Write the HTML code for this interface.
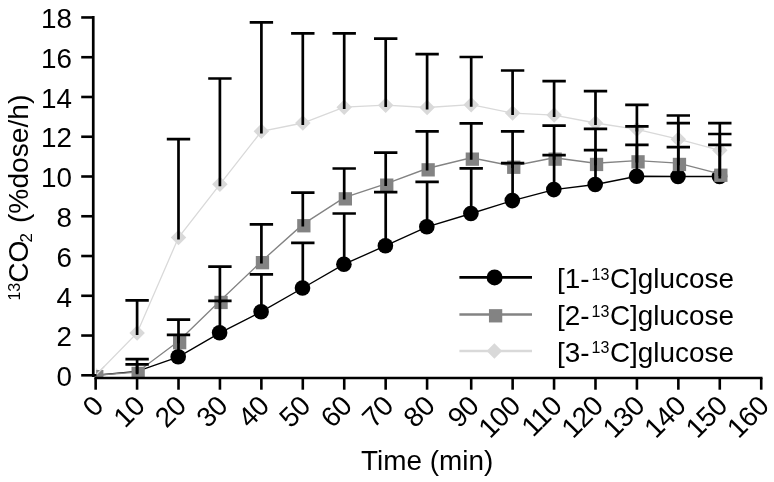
<!DOCTYPE html>
<html><head><meta charset="utf-8"><title>13CO2 chart</title>
<style>
html,body{margin:0;padding:0;background:#fff;}
svg{display:block}
text{font-family:"Liberation Sans",Arial,sans-serif;fill:#000}
.tk{font-size:27.8px}
.tt{font-size:27.9px}
.sup{font-size:16px}
.sub{font-size:17px}
</style></head><body>
<svg width="774" height="482" viewBox="0 0 774 482">
<rect width="774" height="482" fill="#fff"/>
<defs><clipPath id="pa"><rect x="96.2" y="0" width="700" height="376.9"/></clipPath></defs>
<g clip-path="url(#pa)">
<polyline points="95.7,375.3 137.1,333.0 178.5,237.5 219.9,184.3 261.4,131.4 302.8,123.0 344.2,107.1 385.7,105.1 427.1,107.5 471.2,104.7 512.6,113.1 554.1,115.1 595.5,123.0 636.9,129.4 678.3,139.1 719.8,150.3" fill="none" stroke="#d9d9d9" stroke-width="1.3"/>
<path d="M95.7 367.6l7.75 7.75l-7.75 7.75l-7.75 -7.75z" fill="#d9d9d9"/>
<path d="M137.1 325.2l7.75 7.75l-7.75 7.75l-7.75 -7.75z" fill="#d9d9d9"/>
<path d="M178.5 229.8l7.75 7.75l-7.75 7.75l-7.75 -7.75z" fill="#d9d9d9"/>
<path d="M219.9 176.5l7.75 7.75l-7.75 7.75l-7.75 -7.75z" fill="#d9d9d9"/>
<path d="M261.4 123.6l7.75 7.75l-7.75 7.75l-7.75 -7.75z" fill="#d9d9d9"/>
<path d="M302.8 115.3l7.75 7.75l-7.75 7.75l-7.75 -7.75z" fill="#d9d9d9"/>
<path d="M344.2 99.4l7.75 7.75l-7.75 7.75l-7.75 -7.75z" fill="#d9d9d9"/>
<path d="M385.7 97.4l7.75 7.75l-7.75 7.75l-7.75 -7.75z" fill="#d9d9d9"/>
<path d="M427.1 99.8l7.75 7.75l-7.75 7.75l-7.75 -7.75z" fill="#d9d9d9"/>
<path d="M471.2 97.0l7.75 7.75l-7.75 7.75l-7.75 -7.75z" fill="#d9d9d9"/>
<path d="M512.6 105.3l7.75 7.75l-7.75 7.75l-7.75 -7.75z" fill="#d9d9d9"/>
<path d="M554.1 107.3l7.75 7.75l-7.75 7.75l-7.75 -7.75z" fill="#d9d9d9"/>
<path d="M595.5 115.3l7.75 7.75l-7.75 7.75l-7.75 -7.75z" fill="#d9d9d9"/>
<path d="M636.9 121.6l7.75 7.75l-7.75 7.75l-7.75 -7.75z" fill="#d9d9d9"/>
<path d="M678.3 131.4l7.75 7.75l-7.75 7.75l-7.75 -7.75z" fill="#d9d9d9"/>
<path d="M719.8 142.5l7.75 7.75l-7.75 7.75l-7.75 -7.75z" fill="#d9d9d9"/>
<polyline points="95.7,375.3 137.1,371.3 178.5,356.8 219.9,332.8 261.4,311.7 302.8,288.0 344.2,264.2 385.7,245.7 427.1,226.8 471.2,213.5 512.6,200.6 554.1,189.6 595.5,184.5 636.9,176.3 678.3,176.5 719.8,176.5" fill="none" stroke="#000" stroke-width="1.35"/>
<circle cx="178.2" cy="356.8" r="7.8" fill="#000"/>
<circle cx="219.6" cy="332.8" r="7.8" fill="#000"/>
<circle cx="261.1" cy="311.7" r="7.8" fill="#000"/>
<circle cx="302.5" cy="288.0" r="7.8" fill="#000"/>
<circle cx="343.9" cy="264.2" r="7.8" fill="#000"/>
<circle cx="385.4" cy="245.7" r="7.8" fill="#000"/>
<circle cx="426.8" cy="226.8" r="7.8" fill="#000"/>
<circle cx="470.9" cy="213.5" r="7.8" fill="#000"/>
<circle cx="512.3" cy="200.6" r="7.8" fill="#000"/>
<circle cx="553.8" cy="189.6" r="7.8" fill="#000"/>
<circle cx="595.2" cy="184.5" r="7.8" fill="#000"/>
<circle cx="636.6" cy="176.3" r="7.8" fill="#000"/>
<circle cx="678.0" cy="176.5" r="7.8" fill="#000"/>
<circle cx="719.5" cy="176.5" r="7.8" fill="#000"/>
<polyline points="95.7,375.3 137.1,372.2 178.5,341.3 219.9,301.1 261.4,261.4 302.8,224.4 344.2,197.6 385.7,183.9 427.1,168.5 471.2,157.8 512.6,166.0 554.1,157.8 595.5,163.2 636.9,160.6 678.3,163.2 719.8,173.9" fill="none" stroke="#838383" stroke-width="1.35"/>
<rect x="90.1" y="370.0" width="13.3" height="13.3" fill="#838383"/>
<rect x="131.5" y="366.8" width="13.3" height="13.3" fill="#838383"/>
<rect x="173.0" y="336.0" width="13.3" height="13.3" fill="#838383"/>
<rect x="214.4" y="295.8" width="13.3" height="13.3" fill="#838383"/>
<rect x="255.8" y="256.0" width="13.3" height="13.3" fill="#838383"/>
<rect x="297.2" y="219.1" width="13.3" height="13.3" fill="#838383"/>
<rect x="338.7" y="192.2" width="13.3" height="13.3" fill="#838383"/>
<rect x="380.1" y="178.5" width="13.3" height="13.3" fill="#838383"/>
<rect x="421.5" y="163.2" width="13.3" height="13.3" fill="#838383"/>
<rect x="465.7" y="152.5" width="13.3" height="13.3" fill="#838383"/>
<rect x="507.1" y="160.6" width="13.3" height="13.3" fill="#838383"/>
<rect x="548.5" y="152.5" width="13.3" height="13.3" fill="#838383"/>
<rect x="589.9" y="157.8" width="13.3" height="13.3" fill="#838383"/>
<rect x="631.4" y="155.2" width="13.3" height="13.3" fill="#838383"/>
<rect x="672.8" y="157.8" width="13.3" height="13.3" fill="#838383"/>
<rect x="714.2" y="168.6" width="13.3" height="13.3" fill="#838383"/>
<path d="M95.7 375.3L104.5 366.3" stroke="#d9d9d9" stroke-width="1.3" fill="none"/>
<path d="M137.1 335.0V300.4M125.4 300.4H148.8M178.5 239.5V139.1M166.8 139.1H190.2M219.9 186.3V78.5M208.2 78.5H231.6M261.4 133.4V22.4M249.7 22.4H273.1M302.8 125.0V33.4M291.1 33.4H314.5M344.2 109.1V33.4M332.5 33.4H355.9M385.7 107.1V38.7M374.0 38.7H397.4M427.1 109.5V54.2M415.4 54.2H438.8M471.2 106.7V57.0M459.5 57.0H482.9M512.6 115.1V70.5M500.9 70.5H524.3M554.1 117.1V81.1M542.4 81.1H565.8M595.5 125.0V91.2M583.8 91.2H607.2M636.9 131.4V104.9M625.2 104.9H648.6M678.3 141.1V115.5M666.6 115.5H690.0M719.8 152.3V123.2M708.1 123.2H731.5" stroke="#000" stroke-width="2.7" fill="none"/>
<path d="M137.1 373.3V364.4M125.4 364.4H148.8M178.5 358.8V334.9M166.8 334.9H190.2M219.9 334.8V300.8M208.2 300.8H231.6M261.4 313.7V274.3M249.7 274.3H273.1M302.8 290.0V242.9M291.1 242.9H314.5M344.2 266.2V213.5M332.5 213.5H355.9M385.7 247.7V192.2M374.0 192.2H397.4M427.1 228.8V181.9M415.4 181.9H438.8M471.2 215.5V168.3M459.5 168.3H482.9M512.6 202.6V163.2M500.9 163.2H524.3M554.1 191.6V155.2M542.4 155.2H565.8M595.5 186.5V150.1M583.8 150.1H607.2M636.9 178.3V144.9M625.2 144.9H648.6M678.3 178.5V147.1M666.6 147.1H690.0M719.8 178.5V144.9M708.1 144.9H731.5" stroke="#000" stroke-width="2.7" fill="none"/>
<path d="M137.1 374.2V359.1M125.4 359.1H148.8M178.5 343.3V319.6M166.8 319.6H190.2M219.9 303.1V266.6M208.2 266.6H231.6M261.4 263.4V224.4M249.7 224.4H273.1M302.8 226.4V192.6M291.1 192.6H314.5M344.2 199.6V168.5M332.5 168.5H355.9M385.7 185.9V152.6M374.0 152.6H397.4M427.1 170.5V131.4M415.4 131.4H438.8M471.2 159.8V123.4M459.5 123.4H482.9M512.6 168.0V131.4M500.9 131.4H524.3M554.1 159.8V125.6M542.4 125.6H565.8M595.5 165.2V128.8M583.8 128.8H607.2M636.9 162.6V126.4M625.2 126.4H648.6M678.3 165.2V123.2M666.6 123.2H690.0M719.8 175.9V134.0M708.1 134.0H731.5" stroke="#000" stroke-width="2.7" fill="none"/>
</g>
<path d="M93.25 16.1V376.9" stroke="#000" stroke-width="2.7" fill="none"/>
<path d="M94.4 378.05H762.5" stroke="#000" stroke-width="2.4" fill="none"/>
<path d="M81.2 375.30H96.5" stroke="#000" stroke-width="2.6"/>
<text x="72.0" y="386.0" text-anchor="end" class="tk">0</text>
<path d="M81.2 335.54H93.25" stroke="#000" stroke-width="2.6"/>
<text x="72.0" y="346.2" text-anchor="end" class="tk">2</text>
<path d="M81.2 295.78H93.25" stroke="#000" stroke-width="2.6"/>
<text x="72.0" y="306.5" text-anchor="end" class="tk">4</text>
<path d="M81.2 256.02H93.25" stroke="#000" stroke-width="2.6"/>
<text x="72.0" y="266.7" text-anchor="end" class="tk">6</text>
<path d="M81.2 216.26H93.25" stroke="#000" stroke-width="2.6"/>
<text x="72.0" y="227.0" text-anchor="end" class="tk">8</text>
<path d="M81.2 176.50H93.25" stroke="#000" stroke-width="2.6"/>
<text x="72.0" y="187.2" text-anchor="end" class="tk">10</text>
<path d="M81.2 136.74H93.25" stroke="#000" stroke-width="2.6"/>
<text x="72.0" y="147.4" text-anchor="end" class="tk">12</text>
<path d="M81.2 96.98H93.25" stroke="#000" stroke-width="2.6"/>
<text x="72.0" y="107.7" text-anchor="end" class="tk">14</text>
<path d="M81.2 57.22H93.25" stroke="#000" stroke-width="2.6"/>
<text x="72.0" y="67.9" text-anchor="end" class="tk">16</text>
<path d="M81.2 17.46H93.25" stroke="#000" stroke-width="2.6"/>
<text x="72.0" y="28.2" text-anchor="end" class="tk">18</text>
<path d="M95.65 378.05V389.7" stroke="#000" stroke-width="2.6"/>
<text transform="translate(91.4,394.3) rotate(-45)" text-anchor="end" class="tk" letter-spacing="-0.5" y="19">0</text>
<path d="M137.08 378.05V389.7" stroke="#000" stroke-width="2.6"/>
<text transform="translate(132.8,394.3) rotate(-45)" text-anchor="end" class="tk" letter-spacing="-0.5" y="19">10</text>
<path d="M178.51 378.05V389.7" stroke="#000" stroke-width="2.6"/>
<text transform="translate(174.2,394.3) rotate(-45)" text-anchor="end" class="tk" letter-spacing="-0.5" y="19">20</text>
<path d="M219.94 378.05V389.7" stroke="#000" stroke-width="2.6"/>
<text transform="translate(215.6,394.3) rotate(-45)" text-anchor="end" class="tk" letter-spacing="-0.5" y="19">30</text>
<path d="M261.37 378.05V389.7" stroke="#000" stroke-width="2.6"/>
<text transform="translate(257.1,394.3) rotate(-45)" text-anchor="end" class="tk" letter-spacing="-0.5" y="19">40</text>
<path d="M302.80 378.05V389.7" stroke="#000" stroke-width="2.6"/>
<text transform="translate(298.5,394.3) rotate(-45)" text-anchor="end" class="tk" letter-spacing="-0.5" y="19">50</text>
<path d="M344.23 378.05V389.7" stroke="#000" stroke-width="2.6"/>
<text transform="translate(339.9,394.3) rotate(-45)" text-anchor="end" class="tk" letter-spacing="-0.5" y="19">60</text>
<path d="M385.66 378.05V389.7" stroke="#000" stroke-width="2.6"/>
<text transform="translate(381.4,394.3) rotate(-45)" text-anchor="end" class="tk" letter-spacing="-0.5" y="19">70</text>
<path d="M427.09 378.05V389.7" stroke="#000" stroke-width="2.6"/>
<text transform="translate(422.8,394.3) rotate(-45)" text-anchor="end" class="tk" letter-spacing="-0.5" y="19">80</text>
<path d="M471.20 378.05V389.7" stroke="#000" stroke-width="2.6"/>
<text transform="translate(466.9,394.3) rotate(-45)" text-anchor="end" class="tk" letter-spacing="-0.5" y="19">90</text>
<path d="M512.63 378.05V389.7" stroke="#000" stroke-width="2.6"/>
<text transform="translate(508.3,394.3) rotate(-45)" text-anchor="end" class="tk" letter-spacing="-0.5" y="19">100</text>
<path d="M554.06 378.05V389.7" stroke="#000" stroke-width="2.6"/>
<text transform="translate(549.8,394.3) rotate(-45)" text-anchor="end" class="tk" letter-spacing="-0.5" y="19">110</text>
<path d="M595.49 378.05V389.7" stroke="#000" stroke-width="2.6"/>
<text transform="translate(591.2,394.3) rotate(-45)" text-anchor="end" class="tk" letter-spacing="-0.5" y="19">120</text>
<path d="M636.92 378.05V389.7" stroke="#000" stroke-width="2.6"/>
<text transform="translate(632.6,394.3) rotate(-45)" text-anchor="end" class="tk" letter-spacing="-0.5" y="19">130</text>
<path d="M678.35 378.05V389.7" stroke="#000" stroke-width="2.6"/>
<text transform="translate(674.0,394.3) rotate(-45)" text-anchor="end" class="tk" letter-spacing="-0.5" y="19">140</text>
<path d="M719.78 378.05V389.7" stroke="#000" stroke-width="2.6"/>
<text transform="translate(715.5,394.3) rotate(-45)" text-anchor="end" class="tk" letter-spacing="-0.5" y="19">150</text>
<path d="M761.21 378.05V389.7" stroke="#000" stroke-width="2.6"/>
<text transform="translate(756.9,394.3) rotate(-45)" text-anchor="end" class="tk" letter-spacing="-0.5" y="19">160</text>
<text x="427.1" y="470.2" text-anchor="middle" class="tt">Time (min)</text>
<text transform="translate(28,197.6) rotate(-90)" text-anchor="middle" class="tt" style="font-size:28.2px"><tspan class="sup" dy="-8.5">13</tspan><tspan dy="8.5">CO</tspan><tspan class="sub" dx="-2" dy="3.7">2</tspan><tspan dx="2.2" dy="-3.7"> (%dose/h)</tspan></text>
<path d="M459.4 277.4H532" stroke="#000" stroke-width="2.7"/>
<circle cx="494.6" cy="277.4" r="8" fill="#000"/>
<text x="557" y="288.09999999999997" class="tt">[1-<tspan class="sup" dx="2" dy="-8.5">13</tspan><tspan dx="0.6" dy="8.5">C]glucose</tspan></text>
<path d="M459.4 314.5H532" stroke="#838383" stroke-width="2.7"/>
<rect x="488.95000000000005" y="309.15000000000003" width="13.3" height="13.3" fill="#838383"/>
<text x="557" y="325.2" class="tt">[2-<tspan class="sup" dx="2" dy="-8.5">13</tspan><tspan dx="0.6" dy="8.5">C]glucose</tspan></text>
<path d="M459.4 351.0H532" stroke="#d9d9d9" stroke-width="2.7"/>
<path d="M494.4 343.25l7.75 7.75l-7.75 7.75l-7.75 -7.75z" fill="#d9d9d9"/>
<text x="557" y="361.7" class="tt">[3-<tspan class="sup" dx="2" dy="-8.5">13</tspan><tspan dx="0.6" dy="8.5">C]glucose</tspan></text>
</svg>
</body></html>
